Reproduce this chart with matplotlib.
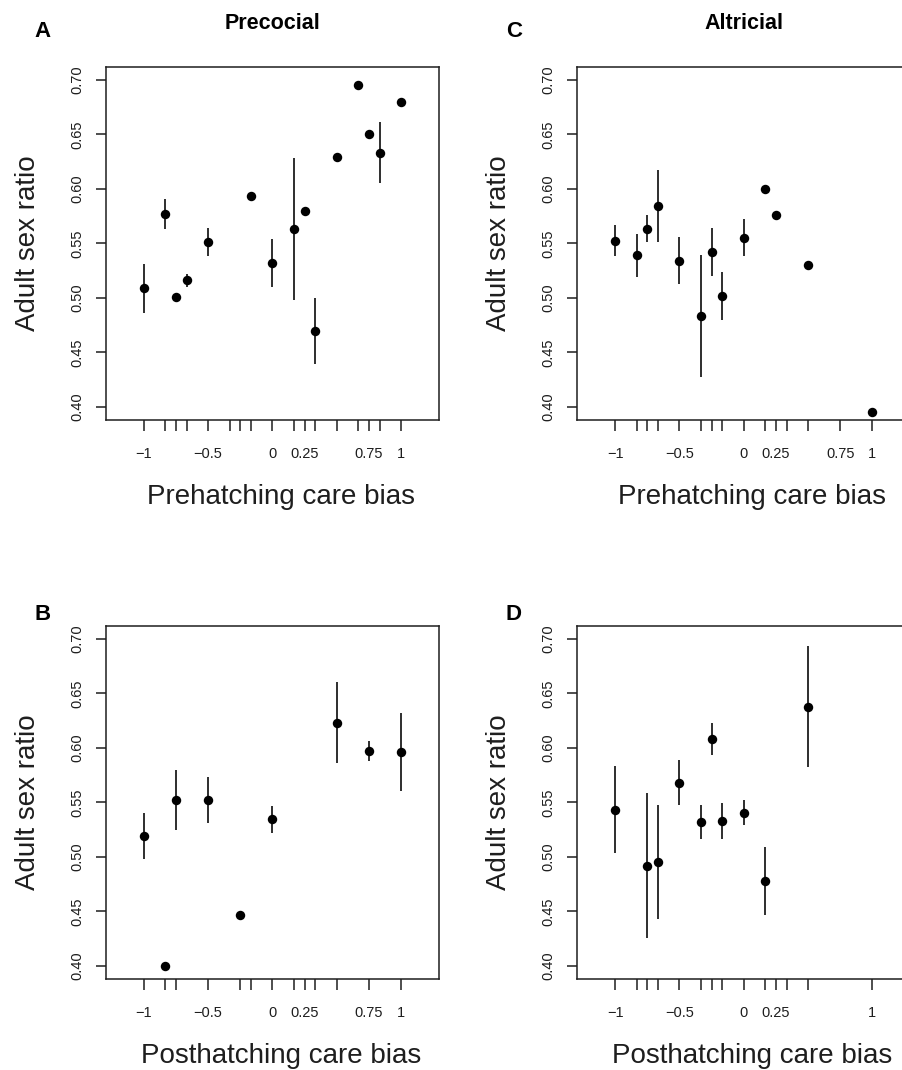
import numpy as np
import matplotlib.pyplot as plt

plt.rcParams['font.family'] = ['Liberation Sans', 'DejaVu Sans']

# care bias values (x) are in steps of 1/12
prec_pre_x = [-1, -5/6, -3/4, -2/3, -1/2, -1/6, 0, 1/6, 1/4, 1/3, 1/2, 2/3, 3/4, 5/6, 1]
prec_pre_y = [0.509, 0.577, 0.501, 0.516, 0.5515, 0.593, 0.532, 0.563, 0.580, 0.470, 0.629, 0.695, 0.650, 0.633, 0.680]
prec_pre_lo = [0.486, 0.563, np.nan, 0.510, 0.538, np.nan, 0.510, 0.498, np.nan, 0.439, np.nan, np.nan, np.nan, 0.605, np.nan]
prec_pre_hi = [0.531, 0.591, np.nan, 0.522, 0.564, np.nan, 0.554, 0.628, np.nan, 0.500, np.nan, np.nan, np.nan, 0.661, np.nan]
prec_pre_ticks = [-1, -5/6, -3/4, -2/3, -1/2, -1/3, -1/4, -1/6, 0, 1/6, 1/4, 1/3, 1/2, 2/3, 3/4, 5/6, 1]

prec_post_x = [-1, -5/6, -3/4, -1/2, -1/4, 0, 1/2, 3/4, 1]
prec_post_y = [0.519, 0.400, 0.552, 0.552, 0.447, 0.535, 0.623, 0.597, 0.596]
prec_post_lo = [0.498, np.nan, 0.525, 0.531, np.nan, 0.522, 0.586, 0.588, 0.560]
prec_post_hi = [0.540, np.nan, 0.580, 0.573, np.nan, 0.547, 0.660, 0.606, 0.632]
prec_post_ticks = [-1, -5/6, -3/4, -1/2, -1/4, -1/6, 0, 1/6, 1/4, 1/3, 1/2, 3/4, 1]

altr_pre_x = [-1, -5/6, -3/4, -2/3, -1/2, -1/3, -1/4, -1/6, 0, 1/6, 1/4, 1/2, 1]
altr_pre_y = [0.552, 0.539, 0.5635, 0.584, 0.534, 0.483, 0.542, 0.502, 0.555, 0.600, 0.576, 0.530, 0.395]
altr_pre_lo = [0.538, 0.519, 0.551, 0.551, 0.513, 0.427, 0.520, 0.480, 0.538, np.nan, np.nan, np.nan, np.nan]
altr_pre_hi = [0.567, 0.559, 0.576, 0.617, 0.556, 0.539, 0.564, 0.524, 0.572, np.nan, np.nan, np.nan, np.nan]
altr_pre_ticks = [-1, -5/6, -3/4, -2/3, -1/2, -1/3, -1/4, -1/6, 0, 1/6, 1/4, 1/3, 1/2, 3/4, 1]

altr_post_x = [-1, -3/4, -2/3, -1/2, -1/3, -1/4, -1/6, 0, 1/6, 1/2]
altr_post_y = [0.543, 0.492, 0.495, 0.568, 0.532, 0.608, 0.533, 0.540, 0.478, 0.637]
altr_post_lo = [0.504, 0.426, 0.443, 0.548, 0.516, 0.593, 0.516, 0.529, 0.447, 0.582]
altr_post_hi = [0.583, 0.559, 0.548, 0.589, 0.548, 0.623, 0.549, 0.552, 0.509, 0.693]
altr_post_ticks = [-1, -5/6, -3/4, -2/3, -1/2, -1/3, -1/4, -1/6, 0, 1/6, 1/4, 1/3, 1/2, 1]

labels_full = {-1: '\u22121', -0.5: '\u22120.5', 0: '0', 0.25: '0.25', 0.75: '0.75', 1: '1'}
labels_d = {-1: '\u22121', -0.5: '\u22120.5', 0: '0', 0.25: '0.25', 1: '1'}
yticks = [0.40, 0.45, 0.50, 0.55, 0.60, 0.65, 0.70]

ink = '#1e1e1e'

fig = plt.figure(figsize=(9.02, 10.70), dpi=100)
W, H = 902, 1070


def panel(left_px, top_px, x, y, lo, hi, ticks, ticklabels, xlabel, letter, letter_y, title=None):
    ax = fig.add_axes([left_px / W, 1 - (top_px + 353.3) / H, 333.5 / W, 353.3 / H])
    x = np.array(x); y = np.array(y); lo = np.array(lo); hi = np.array(hi)
    m = ~np.isnan(lo)
    ax.vlines(x[m], lo[m], hi[m], color=ink, lw=1.3)
    ax.plot(x, y, 'o', color='black', ms=6.8, mew=0)
    ax.set_xlim(-1.296, 1.296)
    ax.set_ylim(0.388, 0.712)
    ax.set_xticks(ticks)
    ax.set_xticklabels([ticklabels.get(round(t, 3), '') for t in ticks])
    ax.set_yticks(yticks)
    ax.set_yticklabels(['%.2f' % v for v in yticks], rotation=90, va='center')
    ax.tick_params(axis='x', length=8.2, width=1.1, pad=11, labelsize=10.5, colors=ink)
    ax.tick_params(axis='y', length=7.4, width=1.1, pad=8, labelsize=10.5, colors=ink)
    for s in ax.spines.values():
        s.set_linewidth(1.1)
        s.set_color(ink)
    ax.set_xlabel(xlabel, fontsize=20, va='baseline', color=ink)
    ax.xaxis.set_label_coords(0.525, -0.238)
    ax.set_ylabel('Adult sex ratio', fontsize=20, va='baseline', color=ink)
    ax.yaxis.set_label_coords(-0.212, 0.5)
    if title:
        ax.set_title(title, fontsize=15.5, fontweight='bold', y=1.106, pad=0, va='baseline')
    ax.text(-0.19, letter_y, letter, transform=ax.transAxes, fontsize=16,
            fontweight='bold', ha='center', va='baseline')
    return ax


panel(105.7, 66.7, prec_pre_x, prec_pre_y, prec_pre_lo, prec_pre_hi, prec_pre_ticks,
      labels_full, 'Prehatching care bias', 'A', 1.085, 'Precocial')
panel(577, 66.7, altr_pre_x, altr_pre_y, altr_pre_lo, altr_pre_hi, altr_pre_ticks,
      labels_full, 'Prehatching care bias', 'C', 1.085, 'Altricial')
panel(105.7, 625.7, prec_post_x, prec_post_y, prec_post_lo, prec_post_hi, prec_post_ticks,
      labels_full, 'Posthatching care bias', 'B', 1.016)
panel(577, 625.7, altr_post_x, altr_post_y, altr_post_lo, altr_post_hi, altr_post_ticks,
      labels_d, 'Posthatching care bias', 'D', 1.016)

fig.savefig('out.png', dpi=100)
